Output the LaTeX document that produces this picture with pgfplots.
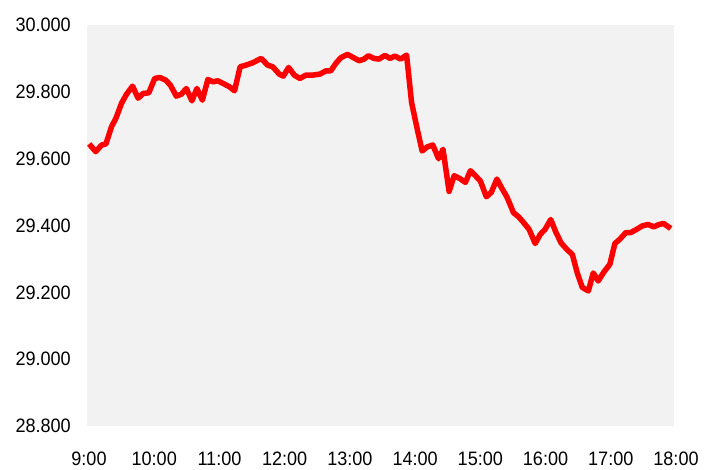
\documentclass[border=0pt]{standalone}
\usepackage{fontspec}
\setmainfont{Liberation Sans}[FakeStretch=0.93]
\usepackage{pgfplots}
\pgfplotsset{compat=1.18}
\definecolor{bggray}{HTML}{F2F2F2}

\begin{document}
\begin{tikzpicture}
\path[use as bounding box] (-87bp,-44bp) rectangle (622bp,426bp);
\begin{axis}[
    scale only axis,
    width=587bp,
    height=401bp,
    xmin=0, xmax=540,
    ymin=28800, ymax=30000,
    xtick={0,60,...,540},
    xticklabels={9:00,10:00,11:00,12:00,13:00,14:00,15:00,16:00,17:00,18:00},
    ytick={28800,29000,...,30000},
    scaled y ticks=false,
    axis background/.style={fill=bggray},
    axis line style={draw=none},
    major tick length=0pt,
    tick label style={font=\fontsize{19.5}{23}\selectfont, text=black},
    /pgf/number format/assume math mode=true,
    yticklabel style={/pgf/number format/.cd, fixed, precision=0, 1000 sep={.}, /tikz/.cd, anchor=east, inner sep=0pt, xshift=-16bp},
    xticklabel style={anchor=north, inner sep=0pt, yshift=-26bp, xshift=2bp},
    clip=false,
]
% intraday price, minutes after 9:00
\addplot[red, line width=5.5bp, line join=round] coordinates {
(2,29644) (8,29621) (13.5,29641) (17.4,29644) (22.6,29696) (26.6,29721)
(31.8,29766) (36.4,29793) (41.9,29817) (47,29781) (51.6,29795) (56.8,29797)
(62.3,29840) (66.9,29843) (72.4,29835) (76.7,29820) (82.2,29787) (86.8,29793)
(91.4,29810) (96.5,29773) (101.1,29810) (106.1,29775) (111.2,29837) (115.8,29830)
(120.4,29833) (126.5,29823) (131.1,29815) (135.7,29803) (140.9,29875) (146.4,29880)
(152.5,29887) (160.2,29900) (166.2,29880) (170.8,29875) (176.9,29853) (180.6,29847)
(185.5,29873) (190.7,29850) (195.9,29840) (201.4,29850) (207.5,29850) (214.3,29853)
(219.8,29863) (224.3,29863) (228.9,29885) (233.5,29902) (239.6,29912) (244.8,29903)
(250.3,29893) (254.9,29898) (258.8,29908) (264,29900) (268.6,29898) (274.1,29909)
(278.7,29900) (283.3,29907) (288.5,29898) (294,29910) (298.6,29768) (303.7,29690)
(308.3,29623) (312.9,29635) (318.1,29641) (323.4,29600) (327.5,29628) (333.1,29502)
(337.8,29549) (343.2,29540) (348.1,29529) (352.7,29564) (357.3,29549) (361.9,29533)
(367.4,29486) (371.9,29499) (377.1,29539) (381.7,29511) (386.2,29486) (392.4,29438)
(397,29426) (401.6,29409) (406.8,29388) (412.3,29346) (416.9,29373) (421.5,29389)
(426.6,29418) (431.2,29381) (436.1,29348) (441.3,29329) (446.5,29313) (451.1,29257)
(455.6,29215) (461.2,29204) (465.7,29258) (470.3,29234) (475.5,29261) (481,29284)
(485.6,29346) (490.2,29359) (495.7,29379) (500.3,29379) (505.4,29388) (510.9,29399)
(516.2,29403) (521.4,29396) (526.2,29403) (530.5,29406) (537,29391)
};
\end{axis}
\end{tikzpicture}
\end{document}
